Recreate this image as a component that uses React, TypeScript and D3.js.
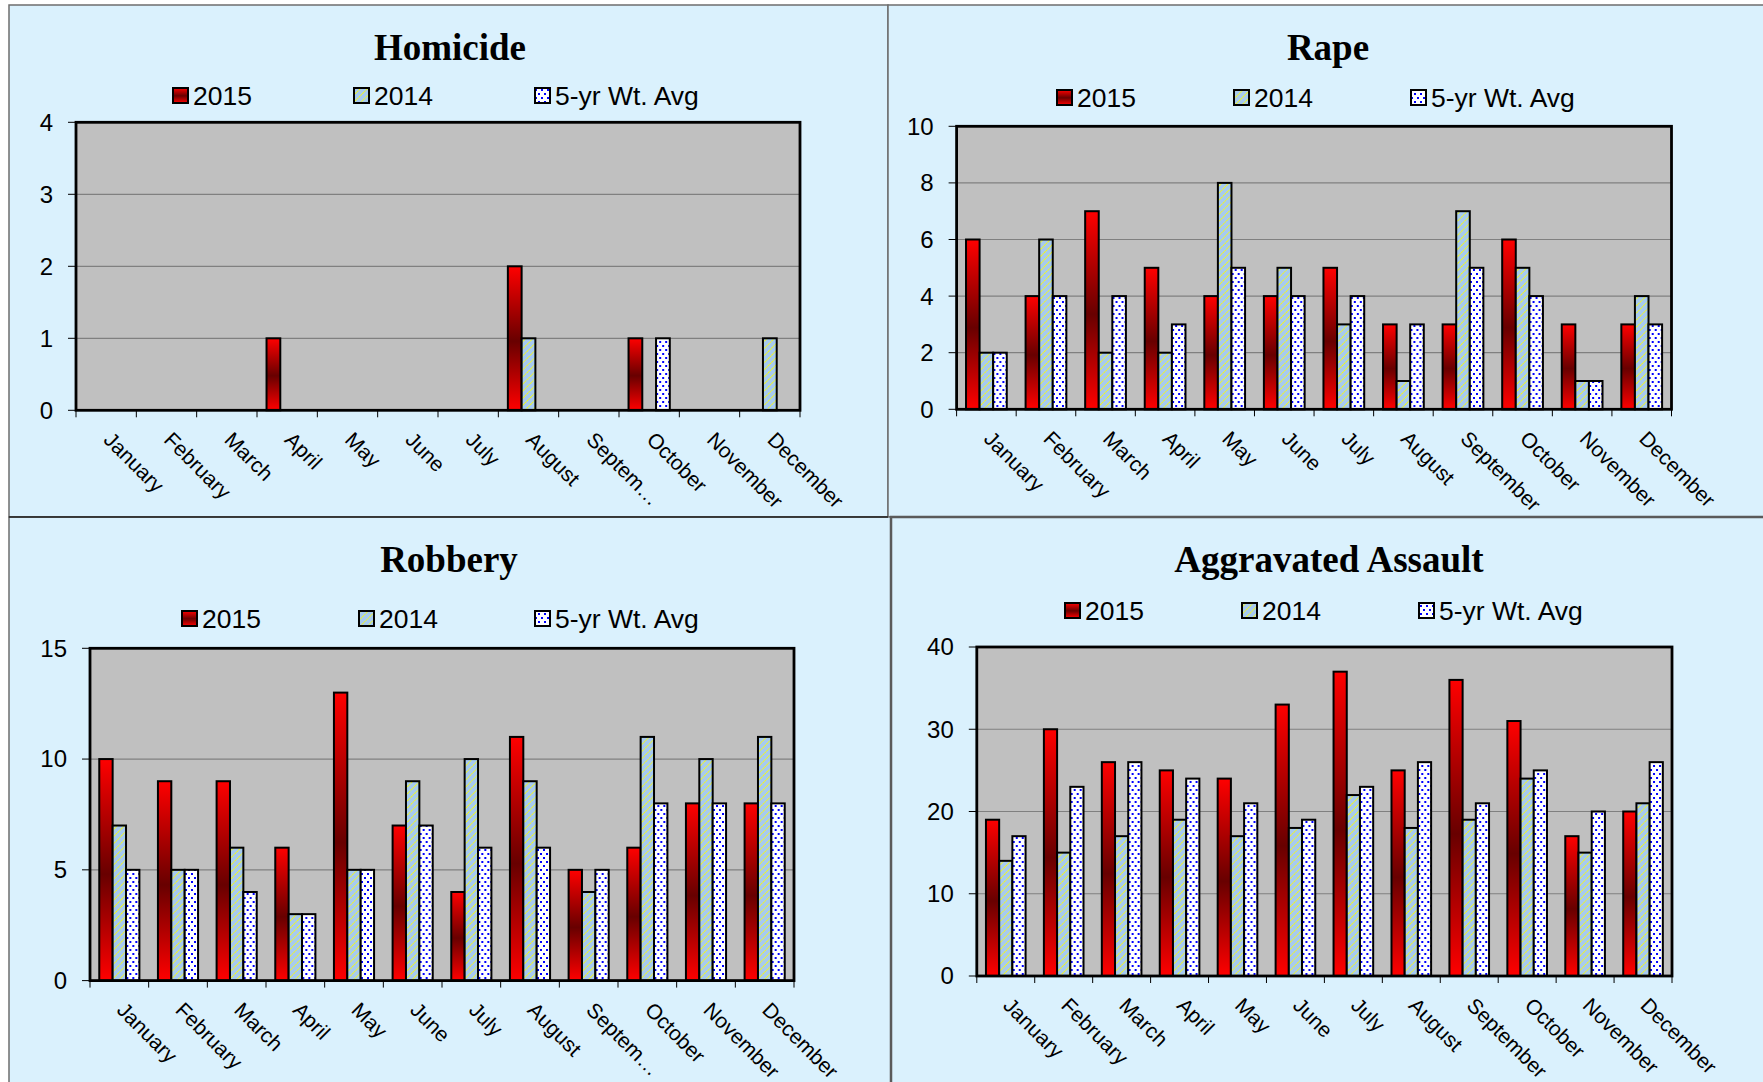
import * as d3 from "d3";

const months = ["January", "February", "March", "April", "May", "June", "July", "August", "September", "October", "November", "December"];
const monthsCut = ["January", "February", "March", "April", "May", "June", "July", "August", "Septem…", "October", "November", "December"];
const seriesNames = ["2015", "2014", "5-yr Wt. Avg"];

const homicide2015 = [0, 0, 0, 1, 0, 0, 0, 2, 0, 1, 0, 0];
const homicide2014 = [0, 0, 0, 0, 0, 0, 0, 1, 0, 0, 0, 1];
const homicideAvg = [0, 0, 0, 0, 0, 0, 0, 0, 0, 1, 0, 0];
const homicideTicks = [0, 1, 2, 3, 4];

const rape2015 = [6, 4, 7, 5, 4, 4, 5, 3, 3, 6, 3, 3];
const rape2014 = [2, 6, 2, 2, 8, 5, 3, 1, 7, 5, 1, 4];
const rapeAvg = [2, 4, 4, 3, 5, 4, 4, 3, 5, 4, 1, 3];
const rapeTicks = [0, 2, 4, 6, 8, 10];

const robbery2015 = [10, 9, 9, 6, 13, 7, 4, 11, 5, 6, 8, 8];
const robbery2014 = [7, 5, 6, 3, 5, 9, 10, 9, 4, 11, 10, 11];
const robberyAvg = [5, 5, 4, 3, 5, 7, 6, 6, 5, 8, 8, 8];
const robberyTicks = [0, 5, 10, 15];

const assault2015 = [19, 30, 26, 25, 24, 33, 37, 25, 36, 31, 17, 20];
const assault2014 = [14, 15, 17, 19, 17, 18, 22, 18, 19, 24, 15, 21];
const assaultAvg = [17, 23, 26, 24, 21, 19, 23, 26, 21, 25, 20, 26];
const assaultTicks = [0, 10, 20, 30, 40];

const fills = ["url(#grad2015)", "url(#pat2014)", "url(#patAvg)"];

// layout of each panel (pixel boxes)
const panels = [
  { title: "Homicide", labels: monthsCut, series: [homicide2015, homicide2014, homicideAvg], ticks: homicideTicks,
    x0: 76, x1: 800, y0: 122.3, y1: 410.3, titleX: 450, titleY: 60, legY: 105, legX: [173, 354, 535] },
  { title: "Rape", labels: months, series: [rape2015, rape2014, rapeAvg], ticks: rapeTicks,
    x0: 956.6, x1: 1671.5, y0: 126.3, y1: 409.3, titleX: 1328, titleY: 60, legY: 107, legX: [1057, 1234, 1411] },
  { title: "Robbery", labels: monthsCut, series: [robbery2015, robbery2014, robberyAvg], ticks: robberyTicks,
    x0: 90, x1: 794, y0: 648.3, y1: 980.6, titleX: 449, titleY: 572, legY: 628, legX: [182, 359, 535] },
  { title: "Aggravated Assault", labels: months, series: [assault2015, assault2014, assaultAvg], ticks: assaultTicks,
    x0: 976.8, x1: 1672, y0: 647, y1: 976, titleX: 1329, titleY: 572, legY: 620, legX: [1065, 1242, 1419] },
];

const sans = "'Liberation Sans', Arial, sans-serif";

function Panel({ p }: { p: (typeof panels)[number] }) {
  const x = d3.scaleBand<string>().domain(months).range([p.x0, p.x1]);
  const y = d3.scaleLinear().domain([0, d3.max(p.ticks) as number]).range([p.y1, p.y0]);
  const bw = x.bandwidth() * 0.228;
  const sub = d3.scaleBand<number>().domain([0, 1, 2]).range([-1.5 * bw, 1.5 * bw]);

  return (
    <g>
      <text x={p.titleX} y={p.titleY} textAnchor="middle" fontFamily="'Liberation Serif', 'Times New Roman', serif"
        fontWeight="bold" fontSize={37}>{p.title}</text>
      {seriesNames.map((s, i) => (
        <g key={s}>
          <rect x={p.legX[i]} y={p.legY - 17} width={15} height={15} fill={fills[i]} stroke="#000" strokeWidth={2} />
          <text x={p.legX[i] + 20} y={p.legY} fontFamily={sans} fontSize={26.5}>{s}</text>
        </g>
      ))}
      <rect x={p.x0} y={p.y0} width={p.x1 - p.x0} height={p.y1 - p.y0} fill="#c0c0c0" />
      {p.ticks.slice(1, -1).map((t) => (
        <line key={t} x1={p.x0} x2={p.x1} y1={y(t)} y2={y(t)} stroke="#808080" strokeWidth={1.2} />
      ))}
      {months.map((m, mi) => (
        <g key={m} transform={`translate(${(x(m) as number) + x.bandwidth() / 2},0)`}>
          {p.series.map((vals, si) =>
            vals[mi] > 0 ? (
              <rect key={si} x={sub(si) as number} y={y(vals[mi])} width={bw} height={y(0) - y(vals[mi])}
                fill={fills[si]} stroke="#000" strokeWidth={2} />
            ) : null
          )}
        </g>
      ))}
      <rect x={p.x0} y={p.y0} width={p.x1 - p.x0} height={p.y1 - p.y0} fill="none" stroke="#000" strokeWidth={2.8} />
      {p.ticks.map((t) => (
        <g key={t}>
          <line x1={p.x0 - 8} x2={p.x0} y1={y(t)} y2={y(t)} stroke="#000" strokeWidth={1} />
          <text x={p.x0 - 23} y={y(t)} dy="0.35em" textAnchor="end" fontFamily={sans} fontSize={24}>{t}</text>
        </g>
      ))}
      {months.map((m) => (
        <line key={m} x1={x(m) as number} x2={x(m) as number} y1={p.y1} y2={p.y1 + 7} stroke="#000" strokeWidth={1} />
      ))}
      <line x1={p.x1} x2={p.x1} y1={p.y1} y2={p.y1 + 7} stroke="#000" strokeWidth={1} />
      {months.map((m, i) => {
        const cx = (x(m) as number) + x.bandwidth() / 2 + 7;
        const cy = p.y1 + 20;
        return (
          <text key={m} transform={`translate(${cx},${cy}) rotate(45)`} dy="0.72em" fontFamily={sans} fontSize={21}>
            {p.labels[i]}
          </text>
        );
      })}
    </g>
  );
}

export default function App() {
  const W = 1763;
  const H = 1082;
  return (
    <svg width={W} height={H} style={{ position: "absolute", left: 0, top: 0 }}>
      <defs>
        <linearGradient id="grad2015" x1="0" y1="0" x2="0" y2="1">
          <stop offset="0%" stopColor="#ff0000" />
          <stop offset="52%" stopColor="#680000" />
          <stop offset="100%" stopColor="#ff0000" />
        </linearGradient>
        <pattern id="pat2014" patternUnits="userSpaceOnUse" width={5} height={5} patternTransform="rotate(-45)">
          <rect width={5} height={5} fill="#a6caf0" />
          <line x1={0} x2={5} y1={2.5} y2={2.5} stroke="#ffff00" strokeWidth={1} strokeDasharray="1.8 0.7" />
        </pattern>
        <pattern id="patAvg" patternUnits="userSpaceOnUse" width={6} height={8}>
          <rect width={6} height={8} fill="#ffffff" />
          <rect x={1} y={1} width={2} height={2} fill="#0000ff" />
          <rect x={4} y={5} width={2} height={2} fill="#0000ff" />
        </pattern>
      </defs>
      <rect width={W} height={H} fill="#ffffff" />
      <rect x={9} y={5} width={879} height={512} fill="#daf1fd" stroke="#6e6e6e" strokeWidth={1.5} />
      <rect x={888} y={5} width={880} height={512} fill="#daf1fd" stroke="#6e6e6e" strokeWidth={1.5} />
      <rect x={9} y={517} width={882} height={570} fill="#daf1fd" stroke="#6e6e6e" strokeWidth={1.5} />
      <rect x={891} y={517} width={877} height={570} fill="#daf1fd" stroke="#5a5a5a" strokeWidth={2.5} />
      <line x1={9} x2={888} y1={517} y2={517} stroke="#222" strokeWidth={1.5} />
      {panels.map((p) => (
        <Panel key={p.title} p={p} />
      ))}
    </svg>
  );
}
